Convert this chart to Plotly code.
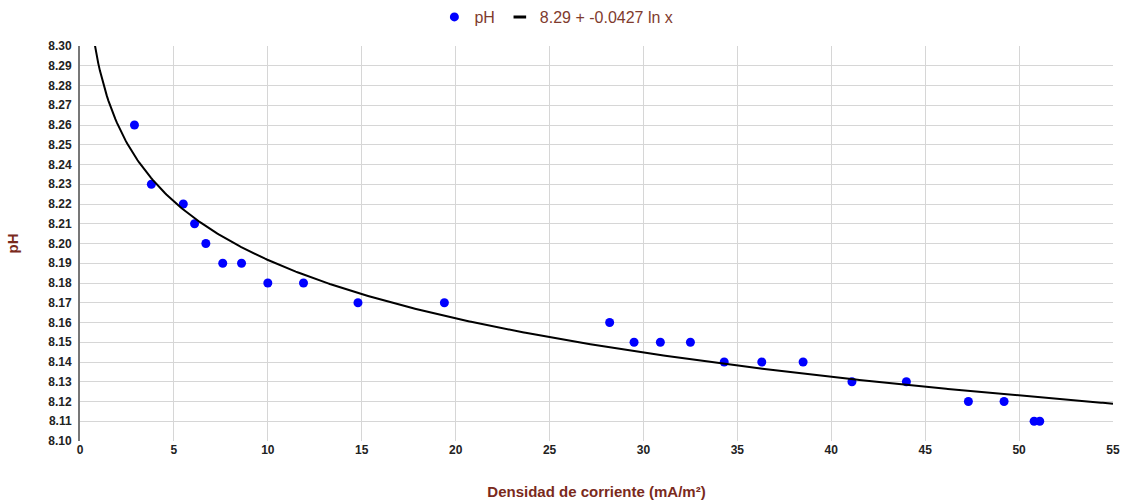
import numpy as np
import plotly.graph_objects as go

# Data
current_density = [2.9, 3.8, 5.5, 6.1, 6.7, 7.6, 8.6, 10.0, 11.9, 14.8, 19.4, 28.2, 29.5, 30.9,
                   32.5, 34.3, 36.3, 38.5, 41.1, 44.0, 47.3, 49.2, 50.8, 51.1]
ph_values = [8.26, 8.23, 8.22, 8.21, 8.20, 8.19, 8.19, 8.18, 8.18, 8.17, 8.17, 8.16, 8.15, 8.15,
             8.15, 8.14, 8.14, 8.14, 8.13, 8.13, 8.12, 8.12, 8.11, 8.11]
fit_a = 8.29
fit_b = -0.0427
fit_label = "8.29 + -0.0427 ln x"
x_ticks = [0, 5, 10, 15, 20, 25, 30, 35, 40, 45, 50, 55]
y_ticks = [round(8.10 + 0.01 * i, 2) for i in range(21)]

fit_x = np.linspace(0.7, 55, 600)
fit_y = fit_a + fit_b * np.log(fit_x)

title_color = "#7a2a1c"
legend_color = "#7f3b2e"
tick_font = dict(family="Liberation Sans, Arial", size=12, color="#222222", weight="bold")

fig = go.Figure()
fig.add_trace(go.Scatter(
    x=current_density, y=ph_values, mode="markers", name="pH",
    marker=dict(color="#0000ff", size=9, line=dict(width=0)),
))
fig.add_trace(go.Scatter(
    x=fit_x, y=fit_y, mode="lines", name=fit_label, showlegend=False,
    line=dict(color="#000000", width=2),
))
# legend entry for the trend line (short thick dash symbol)
fig.add_trace(go.Scatter(
    x=[None], y=[None], mode="markers", name=fit_label,
    marker=dict(symbol="line-ew", size=9, color="#000000", line=dict(width=3, color="#000000")),
))

fig.update_layout(
    width=1124, height=501,
    margin=dict(l=80, r=11, t=46, b=60, autoexpand=False),
    paper_bgcolor="white", plot_bgcolor="white",
    font=dict(family="Liberation Sans, Arial", size=12),
    showlegend=True,
    legend=dict(orientation="h", x=0.495, xanchor="center", xref="container",
                y=1.0, yanchor="top", yref="container",
                font=dict(size=16, color=legend_color),
                itemwidth=30, tracegroupgap=0),
    xaxis=dict(
        range=[0, 55], tickvals=x_ticks, showgrid=True, gridcolor="#d6d6d6", gridwidth=1,
        zeroline=False, showline=False, tickfont=tick_font, ticks="", automargin=False,
        title=dict(text="Densidad de corriente (mA/m²)",
                   font=dict(size=15, color=title_color, weight="bold"), standoff=30),
    ),
    yaxis=dict(
        range=[8.10, 8.30], tickvals=y_ticks, tickformat=".2f", showgrid=True,
        gridcolor="#d6d6d6", gridwidth=1, zeroline=False, showline=True,
        linecolor="#777777", linewidth=2, tickfont=tick_font, ticks="", automargin=False,
        ticklabelstandoff=4,
        title=dict(text="pH", font=dict(size=15, color=title_color, weight="bold"), standoff=26),
    ),
)

fig.write_html("out.html", config={"displayModeBar": False},
               post_script="document.body.style.margin='0';")
